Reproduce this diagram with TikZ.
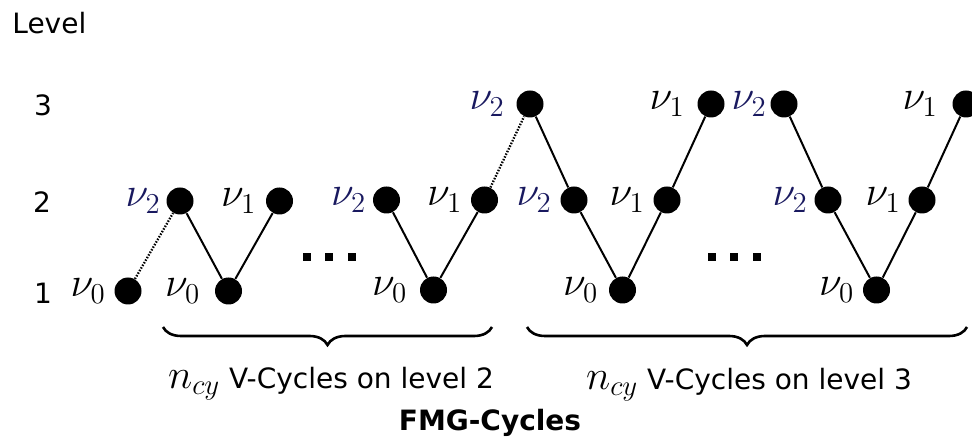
\documentclass[tikz,border=0pt]{standalone}
\usepackage{fontspec}
\setmainfont{DejaVu Sans}
\usetikzlibrary{decorations.pathreplacing}
\definecolor{navy}{RGB}{25,25,95}
\newcommand{\bigmath}{\fontsize{19.5}{23}\selectfont}
\begin{document}
\begin{tikzpicture}[x=0.5pt,y=-0.5pt, font=\fontsize{14}{17}\selectfont,
  dot/.style={circle,fill=black,minimum size=13.5pt,inner sep=0pt},
  nu/.style={inner sep=0pt,font=\bigmath},
  nutwo/.style={inner sep=0pt,text=navy,font=\bigmath},
  edge/.style={line width=1pt},
  dotedge/.style={line width=1.15pt, dash pattern=on 0.75pt off 0.75pt},
  sq/.style={rectangle,fill=black,minimum size=4pt,inner sep=0pt},
  txt/.style={inner sep=0pt},
  brc/.style={decorate, decoration={brace, mirror, amplitude=9pt}, line width=1.3pt}]
\useasboundingbox (0,0) rectangle (972,437);

% axis labels
\node[txt, anchor=base west] (lvl) at (12,34) {Level};
\node[txt] (lv3) at (43,105) {3};
\node[txt] (lv2) at (42,202) {2};
\node[txt] (lv1) at (43,293) {1};

% dots
\node[dot, label={[nu,label distance=4pt]left:$\nu_0$}] (L1a) at (128,291) {};
\node[dot, label={[nutwo,label distance=2.5pt]left:$\nu_2$}] (L2a) at (180,201) {};
\node[dot, label={[nu,label distance=7pt]left:$\nu_0$}] (L1b) at (228.5,291) {};
\node[dot, label={[nu,label distance=4.5pt]left:$\nu_1$}] (L2b) at (279.5,201) {};

\node[dot, label={[nutwo,label distance=3pt]left:$\nu_2$}] (L2c) at (386.5,200) {};
\node[dot, label={[nu,label distance=6pt]left:$\nu_0$}] (L1c) at (433.5,290) {};
\node[dot, label={[nu,label distance=4pt]left:$\nu_1$}] (L2d) at (484.5,200) {};

\node[dot, label={[nutwo,label distance=5.5pt]left:$\nu_2$}] (L3a) at (530,104) {};
\node[dot, label={[nutwo,label distance=4pt]left:$\nu_2$}] (L2e) at (574,200) {};
\node[dot, label={[nu,label distance=5pt]left:$\nu_0$}] (L1d) at (622.5,290) {};
\node[dot, label={[nu,label distance=4pt]left:$\nu_1$}] (L2f) at (667,200) {};
\node[dot, label={[nu,label distance=6pt]left:$\nu_1$}] (L3b) at (711,104) {};

\node[dot, label={[nutwo,label distance=1.5pt]left:$\nu_2$}] (L3c) at (784,104) {};
\node[dot, label={[nutwo,label distance=3pt]left:$\nu_2$}] (L2g) at (828,200) {};
\node[dot, label={[nu,label distance=4pt]left:$\nu_0$}] (L1e) at (876.5,290) {};
\node[dot, label={[nu,label distance=3.5pt]left:$\nu_1$}] (L2h) at (922,200) {};
\node[dot, label={[nu,label distance=7pt]left:$\nu_1$}] (L3d) at (966,104) {};

% connectors
\draw[dotedge] (L1a) -- (L2a);
\draw[edge] (L2a) -- (L1b) -- (L2b);
\draw[edge] (L2c) -- (L1c) -- (L2d);
\draw[dotedge] (L2d) -- (L3a);
\draw[edge] (L3a) -- (L2e) -- (L1d) -- (L2f) -- (L3b);
\draw[edge] (L3c) -- (L2g) -- (L1e) -- (L2h) -- (L3d);

% ellipses
\node[sq] (e1a) at (306.7,257) {};
\node[sq] (e1b) at (329,257) {};
\node[sq] (e1c) at (351.7,257) {};
\node[sq] (e2a) at (711.5,257) {};
\node[sq] (e2b) at (734,257) {};
\node[sq] (e2c) at (757,257) {};

% braces
\coordinate (b1s) at (163,327);
\coordinate (b1e) at (492,327);
\coordinate (b2s) at (527,327);
\coordinate (b2e) at (967,327);
\draw[brc] (b1s) -- (b1e);
\draw[brc] (b2s) -- (b2e);

\node[txt, anchor=base] (t1) at (331,388) {{\bigmath$n_{cy}$} V-Cycles on level 2};
\node[txt, anchor=base] (t2) at (749,389) {{\bigmath$n_{cy}$} V-Cycles on level 3};
\node[txt, anchor=base, font=\fontsize{14}{17}\selectfont\bfseries] (fmg) at (490,430) {FMG-Cycles};
\end{tikzpicture}
\end{document}
